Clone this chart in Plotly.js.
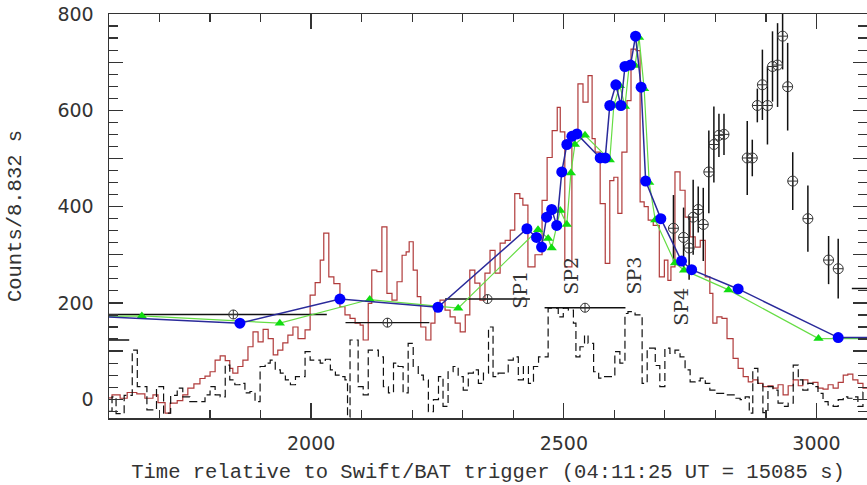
<!DOCTYPE html>
<html>
<head>
<meta charset="utf-8">
<script src="https://cdn.plot.ly/plotly-3.0.1.min.js"></script>
<style>html,body{margin:0;padding:0;background:#fff;}#chart{width:867px;height:485px;}</style>
</head>
<body>
<div id="chart"></div>
<script>
// Red light curve (step histogram): bin start time (s) and counts / 8.832 s
const redTime = [1598,1606,1622,1636,1655,1671,1687,1697,1711,1721,1735,1746,1756,1768,1780,1790,1800,1810,1820,1830,1839,1845,1855,1865,1875,1885,1895,1905,1915,1925,1934,1944,1954,1964,1974,1988,1998,2008,2018,2025,2035,2045,2057,2067,2077,2087,2097,2103,2113,2120,2130,2140,2150,2160,2170,2180,2188,2194,2202,2210,2217,2227,2237,2245,2255,2265,2275,2285,2295,2305,2314,2324,2334,2344,2354,2364,2374,2384,2394,2403,2413,2419,2429,2443,2457,2467,2477,2487,2493,2502,2516,2528,2538,2548,2556,2562,2572,2582,2591,2599,2607,2615,2625,2633,2643,2651,2659,2667,2677,2689,2699,2706,2712,2720,2730,2740,2750,2760,2770,2780,2789,2795,2803,2813,2823,2835,2845,2855,2865,2874,2884,2894,2904,2914,2924,2934,2944,2954,2964,2973,2983,2993,3003,3013,3023,3033,3043,3053,3062,3072,3082,3092,3100];
const redCounts = [3,9,2,14,11,2,9,-7,-29,-8,-3,9,23,32,43,48,57,81,90,80,64,54,68,81,109,140,119,145,126,92,102,117,133,150,126,144,216,242,289,345,254,240,192,175,168,158,154,123,199,268,265,358,220,206,244,299,306,327,268,213,150,123,158,185,206,185,171,158,140,175,268,241,206,262,309,262,324,330,351,427,417,403,275,300,413,502,558,606,555,275,544,655,617,672,541,513,406,282,454,461,386,513,620,727,724,410,400,372,361,254,289,247,275,472,434,378,337,316,330,254,220,158,171,168,126,85,64,47,36,40,33,26,28,23,30,9,28,40,28,40,33,35,23,21,30,23,35,50,52,40,33,23,23];

// Dashed black light curve (step histogram)
const dashTime = [1598,1606,1614,1630,1646,1656,1675,1694,1708,1722,1735,1746,1760,1780,1790,1800,1810,1820,1830,1839,1849,1859,1869,1879,1889,1899,1909,1919,1929,1939,1949,1959,1969,1979,1988,1998,2008,2018,2028,2038,2048,2057,2067,2072,2077,2093,2103,2113,2133,2143,2153,2163,2172,2182,2192,2202,2212,2222,2232,2242,2252,2261,2271,2281,2291,2301,2311,2321,2331,2341,2351,2360,2370,2390,2400,2410,2420,2430,2440,2450,2469,2489,2499,2509,2519,2524,2532,2541,2548,2559,2569,2578,2601,2611,2621,2627,2641,2655,2665,2681,2690,2700,2710,2720,2730,2740,2750,2760,2770,2780,2789,2799,2819,2839,2849,2859,2867,2874,2884,2894,2904,2914,2924,2934,2944,2954,2964,2973,2983,2993,3003,3013,3023,3033,3043,3053,3062,3072,3082,3092,3100];
const dashCounts = [-25,5,-30,8,102,26,-22,26,-29,8,23,5,-5,-5,9,26,9,5,71,40,30,33,13,16,-5,68,75,81,61,54,40,30,47,47,99,81,81,75,83,61,50,47,40,-37,123,26,9,102,88,26,13,75,68,13,116,68,50,40,-26,-1,47,-15,57,68,47,19,54,61,33,54,150,47,54,81,88,40,68,33,68,88,189,171,189,185,158,88,109,133,116,57,44,47,99,75,178,182,175,33,106,70,26,106,95,102,88,61,36,38,44,33,19,12,9,2,-1,5,-29,64,33,-28,26,19,-8,-15,-8,71,40,19,33,26,12,-5,-12,-15,-1,5,2,5,-15,15,15];

// Blue circles
const blueTime = [1500,1859,2057,2251,2427,2446,2456,2466,2476,2486,2496,2506,2516,2526,2572,2582,2591,2603,2613,2621,2632,2642,2653,2662,2692,2733,2753,2845,3043,3150];
const blueCounts = [176,158,208,191,354,336,316,378,394,361,472,529,546,551,501,501,610,653,610,691,694,754,648,453,375,287,269,229,128,128];

// Green triangles
const greenTime = [1540,1665,1938,2116,2291,2449,2469,2476,2493,2506,2514,2522,2542,2591,2599,2611,2621,2629,2641,2649,2659,2669,2681,2720,2738,2826,3004,3110];
const greenCounts = [171,173,158,207,189,352,334,314,392,363,470,529,548,497,610,651,608,689,693,751,645,450,372,283,268,227,126,126];

// Circle-plus points with horizontal error bars
const hTime = [1560,1846,2151,2349,2542,3150];
const hCounts = [123,176,159,208,190,230];
const hErrPlus = [80,185,83,84,80,80];
const hErrMinus = [80,250,83,84,80,80];

// Circle-plus points with vertical error bars
const vTime = [2717,2737,2748,2756,2766,2776,2787,2797,2807,2817,2863,2873,2883,2893,2903,2913,2923,2933,2943,2953,2983,3024,3043];
const vCounts = [355,336,314,378,394,363,472,529,548,550,501,501,610,653,610,691,694,754,649,453,375,289,271];
const vErr = [69,62,66,78,48,76,86,79,45,43,77,38,35,73,81,73,87,69,91,60,69,50,62];

// Spectral interval labels
const spLabels = ['SP1','SP2','SP3','SP4'];
const spTime = [2413,2515,2639,2732];
const spCounts = [227,257,257,192];

const yTickVals = [0,100,200,300,400,500,600,700,800];
const yTickText = ['0','','200','','400','','600','','800'];
const xTickVals = [2000,2500,3000];
const xTickText = ['2000','2500','3000'];

const traces = [
  {x: redTime, y: redCounts, mode: 'lines', line: {shape: 'hv', color: '#b03a3a', width: 1.2}, showlegend: false},
  {x: dashTime, y: dashCounts, mode: 'lines', line: {shape: 'hv', color: '#111', width: 1.2, dash: '8px,4px'}, showlegend: false},
  {x: hTime, y: hCounts, mode: 'markers', marker: {symbol: 'circle-cross-open', size: 9, color: '#333', line: {width: 1}},
   error_x: {type: 'data', symmetric: false, array: hErrPlus, arrayminus: hErrMinus, color: '#111', thickness: 1.4, width: 0}, showlegend: false},
  {x: vTime, y: vCounts, mode: 'markers', marker: {symbol: 'circle-cross-open', size: 10, color: '#333', line: {width: 1}},
   error_y: {type: 'data', array: vErr, color: '#111', thickness: 1.5, width: 0}, showlegend: false},
  {x: greenTime, y: greenCounts, mode: 'lines+markers', line: {color: '#66dd44', width: 1.2},
   marker: {symbol: 'triangle-up', size: 9, color: '#11dd11'}, showlegend: false},
  {x: blueTime, y: blueCounts, mode: 'lines+markers', line: {color: '#2a2a9a', width: 1.5},
   marker: {symbol: 'circle', size: 11, color: '#0000ff'}, showlegend: false}
];

const annotations = spLabels.map((t, i) => ({
  x: spTime[i], y: spCounts[i], xref: 'x', yref: 'y', text: t, showarrow: false, textangle: -90,
  font: {family: 'DejaVu Serif', size: 19, color: '#333'}
}));

const axisCommon = {
  showline: true, linecolor: '#333', linewidth: 1.5, mirror: 'ticks', ticks: 'inside',
  tickcolor: '#333', tickwidth: 1.3, showgrid: false, zeroline: false,
  tickfont: {family: 'DejaVu Sans', size: 19, color: '#333'}
};

const layout = {
  width: 867, height: 485,
  margin: {l: 109, r: 0, t: 14, b: 67},
  paper_bgcolor: '#fff', plot_bgcolor: '#fff',
  xaxis: Object.assign({}, axisCommon, {
    range: [1600, 3100], tickmode: 'array', tickvals: xTickVals, ticktext: xTickText, ticklen: 15,
    ticklabelstandoff: 8,
    minor: {dtick: 100, ticklen: 8, tickcolor: '#333', tickwidth: 1.2, ticks: 'inside', showgrid: false},
    title: {text: 'Time relative to Swift/BAT trigger (04:11:25 UT = 15085 s)',
            font: {family: 'Liberation Mono', size: 20.5, color: '#333'}, standoff: 10}
  }),
  yaxis: Object.assign({}, axisCommon, {
    range: [-39, 800], tickmode: 'array', tickvals: yTickVals, ticktext: yTickText, ticklen: 14,
    ticklabelstandoff: 10,
    minor: {dtick: 25, ticklen: 9, tickcolor: '#333', tickwidth: 1.2, ticks: 'inside', showgrid: false},
    title: {text: 'Counts/8.832 s', font: {family: 'Liberation Mono', size: 20.5, color: '#333'}, standoff: 30}
  }),
  annotations: annotations
};

Plotly.newPlot('chart', traces, layout, {staticPlot: true, displayModeBar: false});
</script>
</body>
</html>
